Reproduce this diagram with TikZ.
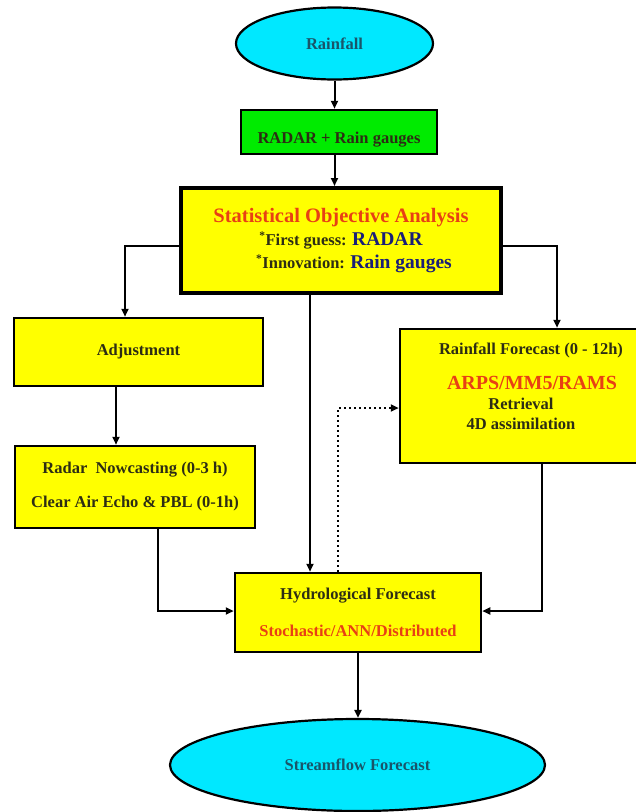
\documentclass[tikz,border=0pt]{standalone}
\usepackage{fontspec}
\setmainfont{Liberation Serif}
\usepackage{tikz}
\usetikzlibrary{arrows.meta,calc,positioning,shapes.geometric}
\definecolor{skycyan}{RGB}{0,232,255}
\definecolor{boxgreen}{RGB}{0,235,0}
\definecolor{boxyellow}{RGB}{255,255,0}
\definecolor{hotred}{RGB}{232,64,20}
\definecolor{inkblue}{RGB}{25,30,120}
\definecolor{inkdark}{RGB}{45,45,20}
\definecolor{inkteal}{RGB}{25,85,105}
\tikzset{
    myellipse/.style={ellipse,draw=black,line width=2.2pt,fill=skycyan,inner sep=0pt,text=inkteal},
    mybox/.style={rectangle,draw=black,line width=2.5pt,fill=boxyellow,inner sep=0pt,align=center,text=inkdark},
    myarrow/.style={line width=2pt,draw=black,-{Triangle[length=8pt,width=7pt]}},
    mydots/.style={line width=2pt,draw=black,dash pattern=on 2pt off 3pt,-{Triangle[length=8pt,width=7pt]}},
    every node/.style={font=\bfseries\fontsize{16.5}{20}\selectfont}
}

\begin{document}
\begin{tikzpicture}[x=1pt,y=-1pt]
  \useasboundingbox (0,0) rectangle (636,812);
  % inputs
  \node[myellipse,minimum width=197pt,minimum height=72pt] (rain) at (334.5,43.5) {Rainfall};
  \node[mybox,fill=boxgreen,minimum width=196pt,minimum height=44pt,text height=26pt] (gauge) at (339,132) {RADAR + Rain gauges};
  \node[mybox,line width=4pt,minimum width=320pt,minimum height=105pt,font=\bfseries\fontsize{16.5}{23}\selectfont] (soa) at (341,240.5)
    {{\color{hotred}\fontsize{20.5}{23}\selectfont Statistical Objective Analysis}\\
     \textsuperscript{*}First guess: {\color{inkblue}\fontsize{19.5}{23}\selectfont RADAR}\\
     \hspace*{26pt}\textsuperscript{*}Innovation: {\color{inkblue}\fontsize{19.5}{23}\selectfont Rain gauges}};
  % left branch
  \node[mybox,minimum width=249pt,minimum height=68pt] (adj) at (138.5,352) {Adjustment};
  \node[mybox,minimum width=240pt,minimum height=82pt] (now) at (135,487)
    {Radar\ \ Nowcasting (0-3 h)\\[14pt] Clear Air Echo \& PBL (0-1h)};
  % right branch
  \node[mybox,minimum width=242pt,minimum height=134pt,text depth=20pt] (rff) at (521,396)
    {\hspace*{20pt}Rainfall Forecast (0 - 12h)\\[15pt]
     \hspace*{22pt}{\color{hotred}\fontsize{20}{20}\selectfont ARPS/MM5/RAMS}\\
     Retrieval\\ 4D assimilation};
  % outputs
  \node[mybox,minimum width=246pt,minimum height=79pt] (hyd) at (358,612.5)
    {Hydrological Forecast\\[17pt] {\color{hotred}Stochastic/ANN/Distributed}};
  \node[myellipse,minimum width=375pt,minimum height=92pt] (flow) at (357.5,765) {Streamflow Forecast};

  \draw[myarrow] (rain.south) -- (rain.south |- gauge.north);
  \draw[myarrow] (rain.south |- gauge.south) -- (rain.south |- soa.north);
  \draw[myarrow] ([yshift=-5.5pt]soa.west) -| ([xshift=-13.5pt]adj.north);
  \draw[myarrow] ([yshift=-5.5pt]soa.east) -| ([xshift=36pt]rff.north);
  \draw[myarrow] ([xshift=-31pt]soa.south) -- ([xshift=-31pt]soa.south |- hyd.north);
  \draw[myarrow] ([xshift=-22.5pt]adj.south) -- ([xshift=-22.5pt]adj.south |- now.north);
  \draw[myarrow] ([xshift=23pt]now.south) |- ([yshift=1.5pt]hyd.west);
  \draw[myarrow] ([xshift=21pt]rff.south) |- ([yshift=1.5pt]hyd.east);
  \draw[mydots] ([xshift=-20pt]hyd.north) |- ([yshift=-12pt]rff.west);
  \draw[myarrow] (hyd.south) -- (hyd.south |- flow.north);
\end{tikzpicture}
\end{document}
